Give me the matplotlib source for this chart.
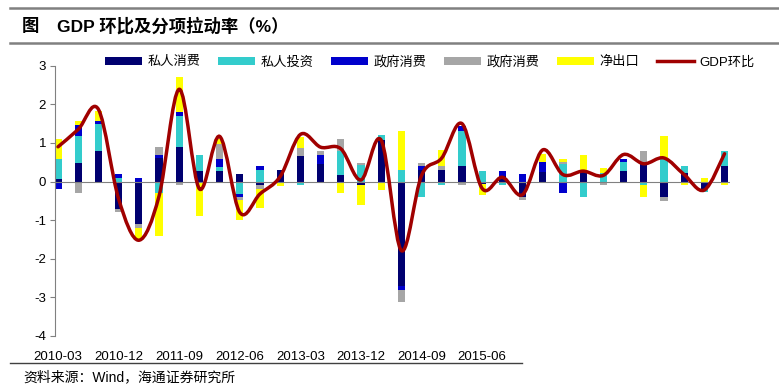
import numpy as np
import matplotlib
matplotlib.use('Agg')
import matplotlib.pyplot as plt
from matplotlib.path import Path
from matplotlib.patches import PathPatch
from matplotlib.lines import Line2D

plt.rcParams['font.family'] = ['Liberation Sans', 'Noto Sans CJK SC', 'DejaVu Sans']
plt.rcParams['axes.unicode_minus'] = False

# quarterly contributions, 2010Q1 .. 2018Q2
private_cons = [0.07, 0.48, 0.78, -0.70, -1.11, 0.62, 0.89, 0.28, 0.28, 0.20,
                -0.10, 0.30, 0.67, 0.46, 0.18, -0.08, 1.07, -2.71, 0.30, 0.29,
                0.39, -0.06, 0.15, -0.40, 0.24, 0.00, 0.30, 0.00, 0.28, 0.46,
                -0.40, 0.22, -0.19, 0.39]
private_inv = [0.52, 0.71, 0.72, 0.08, 0.00, -0.30, 0.81, 0.41, 0.10, -0.32,
               0.30, 0.00, -0.10, 0.00, 0.62, 0.42, 0.13, 0.29, -0.40, -0.10,
               0.91, 0.28, -0.10, 0.00, 0.00, 0.45, -0.40, 0.22, 0.22, -0.10,
               0.59, 0.17, -0.08, 0.41]
gov_cons = [-0.20, 0.28, 0.07, 0.12, 0.10, 0.08, 0.10, 0.00, 0.20, -0.09,
            0.09, 0.00, 0.00, 0.23, 0.00, 0.00, 0.00, -0.11, 0.10, 0.00,
            0.15, 0.00, 0.13, 0.20, 0.26, -0.30, 0.00, 0.00, 0.09, 0.00,
            0.00, 0.00, 0.00, 0.00]
gov_inv = [0.00, -0.30, 0.00, -0.08, -0.09, 0.20, -0.10, -0.05, 0.38, -0.06,
           -0.10, 0.00, 0.20, 0.10, 0.29, 0.07, 0.00, -0.30, 0.08, 0.10,
           -0.10, 0.00, 0.00, -0.09, -0.03, 0.05, 0.00, -0.10, 0.00, 0.34,
           -0.10, 0.00, 0.00, 0.00]
net_exports = [0.52, 0.10, 0.25, 0.00, -0.30, -1.10, 0.90, -0.85, 0.13, -0.53,
               -0.48, -0.12, 0.28, 0.00, -0.30, -0.52, -0.22, 1.01, 0.00, 0.43,
               0.00, -0.30, 0.00, 0.00, 0.22, 0.08, 0.40, 0.13, 0.00, -0.30,
               0.60, -0.09, 0.10, -0.10]
gdp_qoq = [0.90, 1.35, 1.87, -0.45, -1.52, -0.38, 2.39, -0.19, 1.17, -0.80,
           -0.32, 0.13, 1.22, 0.89, 0.85, 0.04, 1.07, -1.79, 0.16, 0.61,
           1.50, -0.18, 0.11, -0.34, 0.82, 0.18, 0.27, 0.16, 0.70, 0.46,
           0.61, 0.18, -0.22, 0.72]

tick_labels = ['2010-03', '2010-12', '2011-09', '2012-06', '2013-03',
               '2013-12', '2014-09', '2015-06']

series = [private_cons, private_inv, gov_cons, gov_inv, net_exports]
names = ['私人消费', '私人投资', '政府消费', '政府消费', '净出口']
colors = ['#000070', '#33CCCC', '#0000CC', '#A6A6A6', '#FFFF00']
line_color = '#A00000'

fig = plt.figure(figsize=(7.79, 3.86), dpi=100)
ax = fig.add_axes([55 / 779, 1 - 336 / 386, 675 / 779, 270.3 / 386])

x = np.arange(len(gdp_qoq))
pos_base = np.zeros(len(x))
neg_base = np.zeros(len(x))
handles = []
for vals, name, c in zip(series, names, colors):
    v = np.array(vals)
    bottom = np.where(v >= 0, pos_base, neg_base)
    bars = ax.bar(x, v, 0.36, bottom=bottom, color=c, linewidth=0, zorder=2)
    handles.append(bars)
    pos_base += np.where(v > 0, v, 0)
    neg_base += np.where(v < 0, v, 0)

ax.axhline(0, color='#808080', lw=0.8, zorder=2.5)

# smoothed line (bezier segments like a spreadsheet "smooth line")
y = np.array(gdp_qoq)
n = len(y)
verts = [(x[0], y[0])]
codes = [Path.MOVETO]
for i in range(n - 1):
    p0 = np.array([x[max(i - 1, 0)], y[max(i - 1, 0)]])
    p1 = np.array([x[i], y[i]])
    p2 = np.array([x[i + 1], y[i + 1]])
    p3 = np.array([x[min(i + 2, n - 1)], y[min(i + 2, n - 1)]])
    c1 = p1 + (p2 - p0) / 6
    c2 = p2 - (p3 - p1) / 6
    verts += [tuple(c1), tuple(c2), tuple(p2)]
    codes += [Path.CURVE4] * 3
ax.add_patch(PathPatch(Path(verts, codes), fill=False, edgecolor=line_color,
                       lw=2.5, capstyle='round', joinstyle='round', zorder=3))
handles.append(Line2D([], [], color=line_color, lw=2.5))

ax.set_xlim(-0.15, 33.27)
ax.set_ylim(-4, 3)
ax.set_yticks(range(-4, 4))
ax.set_xticks(x[::3][:len(tick_labels)])
ax.set_xticklabels(tick_labels)
ax.tick_params(axis='x', length=0, pad=11, labelsize=9.5)
ax.tick_params(axis='y', length=3.5, width=0.8, color='#808080', pad=3, labelsize=9.5)
for s in ['top', 'right', 'bottom']:
    ax.spines[s].set_visible(False)
ax.spines['left'].set_color('#808080')
ax.spines['left'].set_linewidth(0.8)

ax.legend(handles, names + ['GDP环比'], ncol=6, loc='center left',
          bbox_to_anchor=(105 / 779, 1 - 62 / 386), bbox_transform=fig.transFigure,
          frameon=False, fontsize=9.5, handlelength=2.8, handleheight=0.5,
          handletextpad=0.4, columnspacing=1.35, borderpad=0, borderaxespad=0)

# header and footer
fig.add_artist(Line2D([10 / 779, 1], [1 - 8 / 386] * 2, color='#808080', lw=1.8))
fig.add_artist(Line2D([10 / 779, 1], [1 - 43 / 386] * 2, color='#808080', lw=1.8))
fig.text(22 / 779, 1 - 26 / 386, '图', fontsize=12.5, weight='bold', va='center')
fig.text(57 / 779, 1 - 26 / 386, 'GDP 环比及分项拉动率（%）', fontsize=12.5,
         weight='bold', va='center')
fig.add_artist(Line2D([10 / 779, 522 / 779], [1 - 363 / 386] * 2, color='#404040', lw=1))
fig.text(23 / 779, 1 - 377 / 386, '资料来源：Wind，海通证券研究所', fontsize=10,
         va='center')

fig.savefig('out.png', dpi=100)
